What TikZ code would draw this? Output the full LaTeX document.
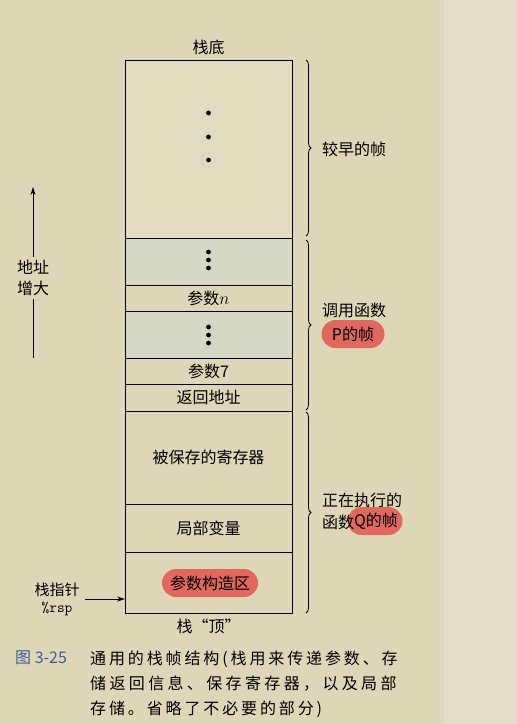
\documentclass[tikz,border=0pt]{standalone}
\usepackage{fontspec}
\setmainfont{Noto Sans CJK SC}
\usetikzlibrary{positioning,decorations.pathreplacing,arrows.meta}
\definecolor{paper}{RGB}{222,215,183}
\definecolor{paperlight}{RGB}{226,220,198}
\definecolor{oldfill}{RGB}{225,219,192}
\definecolor{dotfill}{RGB}{212,216,195}
\definecolor{pillred}{RGB}{224,104,94}
\definecolor{capblue}{RGB}{62,92,150}
\tikzset{
  cell/.style = {draw, line width=0.9pt, minimum width=167pt, outer sep=0pt, inner sep=0pt},
  pill/.style = {fill=pillred, rounded corners=14pt, minimum height=28pt, inner sep=3pt},
  lbl/.style = {anchor=west, inner sep=3pt},
  bracer/.style = {decorate, decoration={brace, amplitude=5pt}, line width=0.8pt}
}
\begin{document}
\begin{tikzpicture}[x=1pt, y=-1pt, inner sep=3pt, font=\fontsize{16}{21}\selectfont]
    \fill[paper] (0,0) rectangle (517,724);
    \fill[paperlight] (444,0) rectangle (517,724);
    \useasboundingbox (0,0) rectangle (517,724);

    % the stack, bottom of stack first
    \node[cell, fill=oldfill, minimum height=178pt] (early) at (208.5,149) {};
    \node[cell, fill=dotfill, minimum height=47pt, below=0pt of early] (dotsa) {};
    \node[cell, minimum height=26pt, below=0pt of dotsa] (argn) {参数$n$};
    \node[cell, fill=dotfill, minimum height=47pt, below=0pt of argn] (dotsb) {};
    \node[cell, minimum height=26pt, below=0pt of dotsb] (argseven) {参数7};
    \node[cell, minimum height=27pt, below=0pt of argseven] (retaddr) {返回地址};
    \node[cell, minimum height=93pt, below=0pt of retaddr] (saved) {被保存的寄存器};
    \node[cell, minimum height=48pt, below=0pt of saved] (locals) {局部变量};
    \node[cell, minimum height=61pt, below=0pt of locals] (argbuild) {};
    \node[pill, minimum width=96pt] (argbuildlbl) at (210,583) {参数构造区};

    \foreach \y in {113,137,160,252,260,268,327,335,343}
      \fill (208.5,\y) circle (2.4);

    \node[above=2pt of early] (stackbot) {栈底};
    \node[below=3pt of argbuild] (stacktop) {栈“顶”};

    % frames
    \draw[bracer] ([xshift=14pt]early.north east) -- ([xshift=14pt, yshift=2pt]early.south east);
    \draw[bracer] ([xshift=14pt, yshift=-2pt]dotsa.north east) -- ([xshift=14pt, yshift=1pt]retaddr.south east);
    \draw[bracer] ([xshift=14pt, yshift=-1pt]saved.north east) -- ([xshift=14pt]argbuild.south east);

    \node[lbl] (earlylbl) at (319,149) {较早的帧};
    \node[lbl] (calllbl) at (319,310) {调用函数};
    \node[pill, minimum width=63pt] (pframe) at (353,334) {P的帧};
    \node[lbl] (runlbl) at (319,500) {正在执行的};
    \node[pill, minimum width=55pt] (qframe) at (375,521) {\hspace*{2pt}Q的帧};
    \node[lbl] (qfunc) at (319,522) {函数};

    % addresses grow upwards
    \node[align=center] (addrlbl) at (33,278) {地址\\增大};
    \coordinate (addrtop) at (33,187);
    \coordinate (addrbot) at (33,358);
    \draw[line width=0.8pt] (addrbot) -- (addrlbl);
    \draw[line width=0.8pt, -{Stealth[length=8pt, width=5pt]}] (addrlbl) -- (addrtop);

    \node[align=center, font=\fontsize{15}{17}\selectfont] (splbl) at (57,599) {栈指针\\\texttt{\%rsp}};
    \draw[line width=0.8pt, -{Stealth[length=8pt, width=5pt]}] ([xshift=2pt]splbl.east) -- (argbuild.west |- splbl.east);

    %\draw[help lines] (0,0) grid[step=50] (517,724);
    \node[anchor=north west, text=capblue] (fignum) at (12,648) {图 3-25};
    \node[anchor=north west, align=left, font=\fontsize{16}{25}\selectfont] (caption) at (87,648)
      {{\addfontfeatures{LetterSpace=18}通用的栈帧结构(栈用来传递参数、存}\\
       {\addfontfeatures{LetterSpace=21}储返回信息、保存寄存器，以及局部}\\
       {\addfontfeatures{LetterSpace=18}存储。省略了不必要的部分)}};
\end{tikzpicture}
\end{document}
